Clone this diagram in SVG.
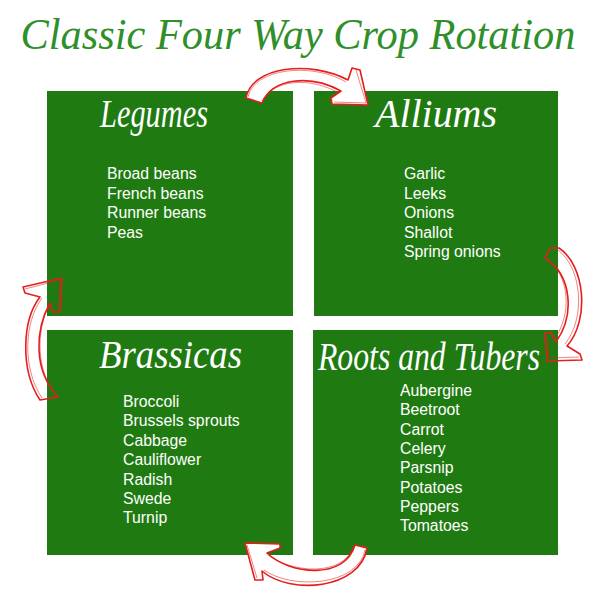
<svg xmlns="http://www.w3.org/2000/svg" width="600" height="596" viewBox="0 0 600 596">
<style>
.box{fill:#1f7b11}
.title{font-family:"Liberation Serif",serif;font-style:italic;fill:#2f8f2a;font-size:44px}
.head{font-family:"Liberation Serif",serif;font-style:italic;fill:#ffffff;font-size:40px}
.item{font-family:"Liberation Sans",Arial,sans-serif;fill:#ffffff;font-size:15.8px}
.arr{stroke:#e41e1e;stroke-width:1.6;stroke-linejoin:round}
.arr2{fill:none;stroke:#e41e1e;stroke-width:1;opacity:0.55}
</style>
<rect width="600" height="596" fill="#ffffff"/>
<text class="title" x="298" y="49" text-anchor="middle" textLength="555" lengthAdjust="spacingAndGlyphs">Classic Four Way Crop Rotation</text>

<g id="legumes">
<rect class="box" x="47" y="91" width="246" height="225"/>
<text class="head" x="100" y="127" textLength="108" lengthAdjust="spacingAndGlyphs">Legumes</text>
<text class="item" x="107" y="179">Broad beans</text>
<text class="item" x="107" y="198.5">French beans</text>
<text class="item" x="107" y="218">Runner beans</text>
<text class="item" x="107" y="237.5">Peas</text>
</g>

<g id="alliums">
<rect class="box" x="314" y="91" width="244" height="225"/>
<text class="head" x="375" y="127" textLength="122" lengthAdjust="spacingAndGlyphs">Alliums</text>
<text class="item" x="404" y="179">Garlic</text>
<text class="item" x="404" y="198.5">Leeks</text>
<text class="item" x="404" y="218">Onions</text>
<text class="item" x="404" y="237.5">Shallot</text>
<text class="item" x="404" y="257">Spring onions</text>
</g>

<g id="brassicas">
<rect class="box" x="47" y="330" width="246" height="225"/>
<text class="head" x="99" y="368" textLength="143" lengthAdjust="spacingAndGlyphs">Brassicas</text>
<text class="item" x="123" y="407">Broccoli</text>
<text class="item" x="123" y="426.4">Brussels sprouts</text>
<text class="item" x="123" y="445.8">Cabbage</text>
<text class="item" x="123" y="465.2">Cauliflower</text>
<text class="item" x="123" y="484.6">Radish</text>
<text class="item" x="123" y="504">Swede</text>
<text class="item" x="123" y="523.4">Turnip</text>
</g>

<g id="roots">
<rect class="box" x="313" y="330" width="245" height="225"/>
<text class="head" x="318" y="370" textLength="222" lengthAdjust="spacingAndGlyphs">Roots and Tubers</text>
<text class="item" x="400" y="396">Aubergine</text>
<text class="item" x="400" y="415.3">Beetroot</text>
<text class="item" x="400" y="434.6">Carrot</text>
<text class="item" x="400" y="453.9">Celery</text>
<text class="item" x="400" y="473.2">Parsnip</text>
<text class="item" x="400" y="492.5">Potatoes</text>
<text class="item" x="400" y="511.8">Peppers</text>
<text class="item" x="400" y="531">Tomatoes</text>
</g>

<g id="connectors">
<path class="arr" fill="#ffffff" d="M246,98 C252,66 310,60 348,80 L352,68 L360,70 L368,105 L332,104 L331,98 L341,91 C310,74 272,78 262,103 Z"/>
<path class="arr2" d="M248,97 C254,68 312,62 346,82 M262,101 C274,80 308,76 339,93 M356,70 L366,103 L334,102"/>
<path class="arr" fill="none" d="M545,258 L550,248 L559,248 C585,265 590,320 567,346 L580,354 L582,360 L547,361 L545,333 L551,333 L556,342 C575,315 572,275 545,258 Z"/>
<path class="arr2" d="M558,250 C582,268 586,318 565,344 M548,259 C570,278 572,314 554,340 M547,336 L549,358 L579,357"/>
<path class="arr" fill="none" d="M62,278 L60,312 L53,312 L50,303 C35,330 33,370 58,397 L40,400 C20,370 22,320 40,297 L25,293 L23,287 Z"/>
<path class="arr2" d="M42,298 C24,322 22,368 42,398 M49,305 C36,332 36,370 56,395 M25,289 L60,280 L58,310"/>
<path class="arr" fill="#ffffff" d="M245,543 L280,544 L280,548 L267,553 C290,575 345,580 355,545 L367,548 C360,590 290,595 262,571 L263,580 L255,580 Z"/>
<path class="arr2" d="M268,555 C292,573 343,577 353,547 M365,550 C358,586 292,590 264,570 M247,545 L257,578"/>
</g>
</svg>
